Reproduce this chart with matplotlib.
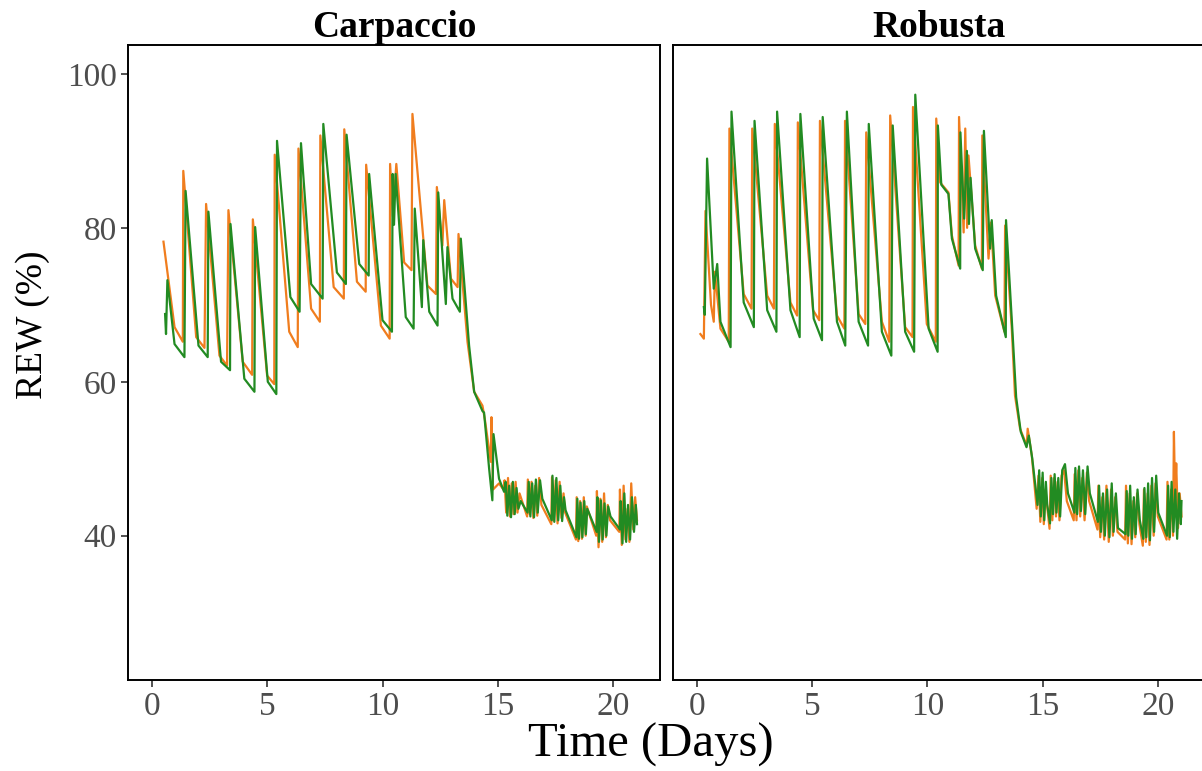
# -*- coding:utf-8 -*-

import matplotlib
matplotlib.use("Agg")
import matplotlib.pyplot as plt

plt.rcParams['font.family'] = ['Liberation Serif', 'DejaVu Serif']

panels = ["Carpaccio", "Robusta"]
orange = "#F07D1E"
green = "#228B22"

# Carpaccio, orange series
carp_t_orange = [0.49, 0.97, 1.33, 1.35, 1.91, 2.27, 2.34, 2.92, 3.25, 3.31, 3.93, 4.34, 4.37,
                 4.99, 5.30, 5.32, 5.95, 6.32, 6.35, 6.90, 7.28, 7.30, 7.88, 8.32, 8.34, 8.89,
                 9.27, 9.29, 9.93, 10.31, 10.33, 10.45, 10.60, 10.94, 11.26, 11.30, 11.95, 12.32,
                 12.36, 12.60, 12.68, 12.97, 13.26, 13.30, 13.69, 13.98, 14.34, 14.45, 14.70,
                 14.73, 14.80, 15.06,
                 15.25, 15.30, 15.37, 15.45, 15.53, 15.61, 15.69, 15.78, 15.86, 15.95, 16.28,
                 16.31, 16.39, 16.47, 16.55, 16.63, 16.72, 16.80, 16.90, 17.33, 17.36, 17.44,
                 17.52, 17.60, 17.69, 17.77, 17.86, 17.93, 18.40, 18.43, 18.50, 18.58, 18.66,
                 18.74, 18.82, 18.87, 19.28, 19.31, 19.38, 19.46, 19.54, 19.62, 19.70, 19.78,
                 19.88, 20.28, 20.31, 20.39, 20.47, 20.55, 20.64, 20.72, 20.80, 20.89, 20.97,
                 21.05]
carp_orange = [78.2, 67.1, 65.2, 87.4, 65.8, 64.4, 83.1, 63.4, 62.1, 82.3, 62.6, 60.9, 81.1,
               60.8, 59.7, 89.5, 66.5, 64.5, 90.3, 69.5, 67.8, 92.0, 72.3, 70.8, 92.8, 73.0,
               71.7, 88.2, 67.3, 65.6, 88.3, 81.5, 88.3, 75.5, 74.5, 94.8, 72.5, 71.4,
               85.3, 77.7, 83.6, 73.4, 72.3, 79.2, 65.2, 58.7, 56.9, 55.0, 49.6,
               55.4, 46.0, 46.8,
               46.0, 47.2, 43.0, 47.5, 42.5, 46.8, 42.8, 47.0, 43.0, 45.5, 42.5,
               47.3, 42.8, 47.0, 42.3, 46.5, 42.6, 47.5, 44.0, 41.5, 47.6, 42.0,
               47.2, 41.6, 47.0, 42.3, 45.5, 43.0, 39.5, 45.0, 39.3, 44.5, 39.6,
               45.0, 40.0, 43.8, 40.0, 45.8, 38.5, 44.8, 39.2, 45.5, 39.8, 44.0,
               42.0, 40.5, 46.0, 38.8, 46.5, 39.5, 43.5, 39.2, 46.8, 40.8, 45.0,
               42.0]

# Carpaccio, green series
carp_t_green = [0.56, 0.60, 0.66, 0.97, 1.40, 1.45, 2.01, 2.41, 2.44, 2.99, 3.38, 3.40, 4.00,
                4.44, 4.47, 5.02, 5.39, 5.42, 6.00, 6.40, 6.46, 6.90, 7.40, 7.43, 8.02, 8.41,
                8.44, 8.99, 9.40, 9.42, 10.00, 10.41, 10.44, 10.50, 10.57, 11.01, 11.35, 11.40,
                11.71, 11.77, 12.03, 12.39, 12.42, 12.75, 12.82, 13.04, 13.36, 13.40, 13.76,
                13.98, 14.34, 14.41, 14.63, 14.77, 14.82, 15.06, 15.28,
                15.35, 15.42, 15.50, 15.58, 15.66, 15.74, 15.82, 15.90, 16.00, 16.30, 16.35,
                16.42, 16.50, 16.58, 16.66, 16.74, 16.84, 16.94, 17.35, 17.38, 17.46, 17.55,
                17.63, 17.72, 17.80, 17.88, 17.95, 18.42, 18.46, 18.53, 18.60, 18.68, 18.76,
                18.83, 18.89, 19.30, 19.33, 19.40, 19.48, 19.56, 19.64, 19.72, 19.80, 19.90,
                20.31, 20.34, 20.42, 20.50, 20.58, 20.66, 20.75, 20.83, 20.92, 21.00, 21.05]
carp_green = [68.8, 66.2, 73.2, 64.9, 63.2, 84.8, 64.7, 63.2, 82.1, 62.6, 61.5, 80.5, 60.4,
              58.7, 80.1, 60.0, 58.4, 91.3, 71.0, 69.1, 91.0, 72.7, 70.8, 93.5, 74.2, 72.7,
              92.1, 75.3, 73.8, 87.0, 68.0, 66.5, 87.0, 80.4, 87.0, 68.4, 66.9, 82.5,
              69.7, 78.4, 69.1, 67.3, 84.6, 70.1, 77.5, 70.8, 69.1, 78.6, 64.7,
              58.7, 56.2, 56.0, 48.7, 44.6, 53.2, 47.4, 45.7,
              47.0, 42.6, 46.5, 42.4, 47.0, 42.8, 46.2, 43.5, 44.5, 43.0, 47.0,
              42.5, 46.8, 42.4, 47.3, 43.0, 47.2, 44.8, 42.0, 47.8, 41.8, 47.5,
              42.0, 46.5, 41.9, 45.0, 43.3, 39.8, 44.8, 39.6, 44.3, 39.8, 44.5,
              40.2, 43.5, 40.5, 45.0, 39.2, 44.6, 39.5, 44.2, 40.0, 43.8, 42.5,
              40.8, 44.5, 39.0, 45.5, 39.2, 44.0, 39.5, 45.0, 40.5, 44.0, 41.5]

# Robusta, orange series
rob_t_orange = [0.14, 0.29, 0.36, 0.60, 0.72, 0.77, 1.01, 1.37, 1.40, 2.02, 2.36, 2.39, 3.04,
                3.33, 3.37, 4.05, 4.34, 4.37, 5.03, 5.30, 5.33, 6.07, 6.39, 6.42, 7.01, 7.30,
                7.34, 8.02, 8.34, 8.38, 9.03, 9.35, 9.37, 9.97, 10.36, 10.38, 10.55, 10.91,
                11.06, 11.35, 11.37, 11.57, 11.64, 11.72, 11.78, 12.07, 12.36, 12.38, 12.65,
                12.76, 12.94, 13.34, 13.37, 13.66, 13.80, 14.02, 14.31, 14.35, 14.53, 14.74,
                14.82, 14.90, 14.98, 15.05, 15.12, 15.30, 15.35, 15.42, 15.50, 15.58, 15.65,
                15.73, 15.82, 15.93, 16.05, 16.35, 16.39, 16.47, 16.55, 16.63, 16.72, 16.82,
                16.92, 17.02, 17.38, 17.42, 17.50, 17.59, 17.67, 17.77, 17.87, 17.97, 18.05,
                18.15, 18.25, 18.58, 18.62, 18.70, 18.78, 18.86, 18.94, 19.02, 19.10, 19.20,
                19.35, 19.40, 19.48, 19.56, 19.64, 19.72, 19.82, 19.90, 20.00, 20.38, 20.42,
                20.50, 20.58, 20.66, 20.70, 20.75, 20.80, 20.88, 20.95, 21.03]
rob_orange = [66.2, 65.6, 82.2, 70.0, 67.8, 74.3, 66.9, 65.2, 92.9, 71.4, 69.5, 92.9, 71.2,
              69.5, 93.5, 70.3, 68.6, 93.7, 69.3, 68.0, 93.9, 68.6, 66.9, 93.9, 68.8, 67.5,
              92.4, 67.8, 65.2, 94.6, 67.1, 65.8, 95.7, 67.5, 65.2, 94.2, 85.9, 84.6,
              79.0, 75.1, 94.4, 79.4, 92.9, 80.0, 89.4, 77.7, 74.7, 92.0, 76.0,
              80.7, 71.2, 66.5, 80.3, 66.9, 58.2, 53.9, 51.7, 53.9, 50.4, 43.5,
              47.8, 41.8, 47.5, 41.5, 46.0, 40.9, 47.8, 42.0, 47.5, 42.5, 47.0,
              42.0, 47.8, 48.5, 44.5, 42.0, 48.0, 42.0, 48.5, 42.5, 47.5, 42.0,
              48.2, 44.5, 40.8, 46.5, 39.8, 45.0, 39.5, 46.5, 39.2, 46.0, 40.0,
              45.0, 40.5, 39.5, 46.5, 39.0, 45.5, 38.9, 44.5, 39.8, 45.5, 41.5,
              38.7, 46.0, 39.2, 45.5, 38.8, 46.5, 40.0, 46.8, 42.5, 39.5, 47.0,
              39.5, 46.0, 40.0, 53.5, 45.0, 49.4, 41.0, 45.5, 42.5]

# Robusta, green series
rob_t_green = [0.29, 0.33, 0.43, 0.72, 0.87, 1.01, 1.45, 1.49, 2.02, 2.46, 2.49, 3.04, 3.44,
               3.47, 4.05, 4.45, 4.48, 5.06, 5.42, 5.45, 6.07, 6.43, 6.50, 7.01, 7.42, 7.45,
               8.02, 8.43, 8.49, 9.03, 9.42, 9.47, 10.05, 10.44, 10.45, 10.60, 10.91, 11.06,
               11.42, 11.43, 11.59, 11.71, 11.80, 11.87, 12.07, 12.40, 12.45, 12.72, 12.79,
               12.98, 13.40, 13.41, 13.70, 13.85, 14.05, 14.30, 14.40, 14.55, 14.78,
               14.85, 14.92, 15.00, 15.07, 15.14, 15.20, 15.32, 15.38, 15.45, 15.52, 15.60,
               15.68, 15.76, 15.85, 15.97, 16.10, 16.38, 16.42, 16.50, 16.58, 16.66, 16.75,
               16.85, 16.95, 17.05, 17.40, 17.45, 17.53, 17.62, 17.70, 17.80, 17.90, 18.00,
               18.08, 18.18, 18.27, 18.60, 18.65, 18.72, 18.80, 18.88, 18.96, 19.04, 19.12,
               19.22, 19.37, 19.42, 19.50, 19.58, 19.66, 19.75, 19.84, 19.93, 20.02, 20.40,
               20.45, 20.52, 20.60, 20.68, 20.76, 20.84, 20.92, 21.00, 21.03]
rob_green = [69.7, 68.7, 89.0, 72.1, 75.3, 67.8, 64.5, 95.1, 70.3, 67.1, 93.9, 69.3, 66.5,
             95.1, 69.3, 65.8, 94.8, 68.2, 65.4, 94.4, 67.8, 64.7, 95.1, 67.8, 64.7, 93.5,
             66.5, 63.4, 93.3, 66.5, 63.9, 97.3, 66.9, 63.9, 93.3, 85.6, 84.4, 78.6,
             74.7, 92.4, 81.2, 90.0, 80.5, 86.5, 77.3, 74.5, 92.6, 77.3, 81.0,
             71.2, 65.8, 81.0, 66.0, 58.0, 53.5, 51.5, 53.0, 50.0, 44.0,
             48.5, 42.5, 48.2, 42.0, 47.0, 44.0, 41.6, 47.5, 42.8, 48.0, 43.0,
             47.5, 42.5, 48.5, 49.3, 45.5, 43.0, 48.8, 42.8, 49.0, 43.2, 48.5,
             42.8, 49.0, 45.5, 41.8, 46.5, 40.5, 45.5, 40.0, 46.0, 39.8, 46.8,
             40.5, 45.5, 41.0, 40.2, 45.8, 40.0, 46.5, 39.6, 45.0, 40.2, 46.0,
             42.0, 39.6, 46.2, 39.8, 46.8, 39.4, 47.5, 40.5, 47.8, 43.0, 40.0,
             46.5, 39.8, 47.0, 40.5, 46.0, 39.6, 45.5, 41.5, 44.5]

x_ticks = [0, 5, 10, 15, 20]
y_ticks = [40, 60, 80, 100]

series = [
    (carp_t_orange, carp_orange, carp_t_green, carp_green),
    (rob_t_orange, rob_orange, rob_t_green, rob_green),
]

fig = plt.figure(figsize=(12.02, 7.71), dpi=100)
ax1 = fig.add_axes([0.1065, 0.118, 0.4426, 0.8236])
ax2 = fig.add_axes([0.5599, 0.118, 0.4426, 0.8236], sharey=ax1)

for ax, name, (to, yo, tg, yg) in zip([ax1, ax2], panels, series):
    ax.plot(to, yo, color=orange, lw=1.6)
    ax.plot(tg, yg, color=green, lw=1.6)
    ax.set_xlim(-1.05, 22.05)
    ax.set_ylim(21.25, 103.75)
    ax.set_xticks(x_ticks)
    ax.set_title(name, fontsize=27, fontweight='bold', pad=4)
    for s in ax.spines.values():
        s.set_linewidth(1.4)
        s.set_color('black')
    ax.tick_params(axis='both', length=5, width=1.2, color='#333333',
                   labelsize=24, labelcolor='#4d4d4d', pad=3)

ax1.set_yticks(y_ticks)
ax1.set_ylabel("REW (%)", fontsize=27, labelpad=10)
ax1.yaxis.set_label_coords(-0.147, 0.56)
ax2.tick_params(axis='y', left=False, labelleft=False)

fig.text(0.5415, 0.005, "Time (Days)", fontsize=35, ha='center', va='bottom')

plt.savefig("out.png", dpi=100)
